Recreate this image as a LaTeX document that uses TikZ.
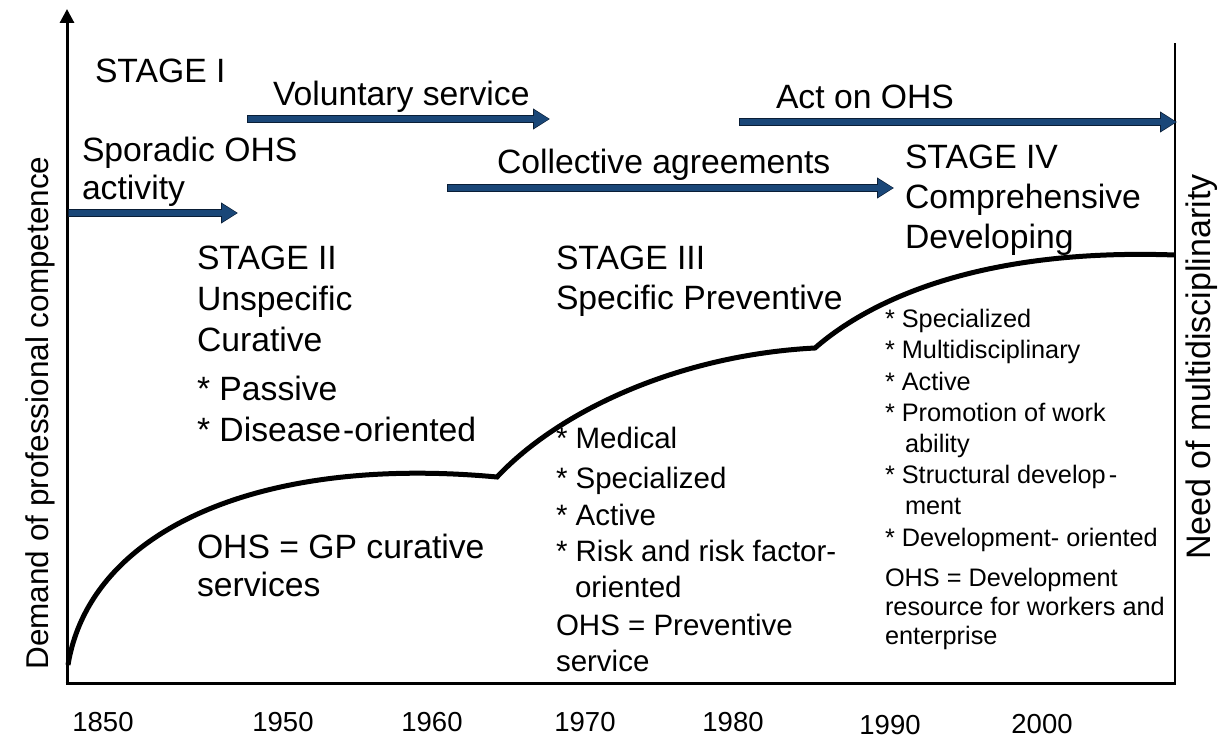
\documentclass[tikz,border=0pt]{standalone}
\usepackage{fontspec}
\setmainfont{Liberation Sans}
\usetikzlibrary{arrows.meta}
\definecolor{arrowblue}{HTML}{1A4778}
\definecolor{arrowedge}{HTML}{0A1E36}
\newcommand{\fBig}{\fontsize{33.7}{40}\selectfont}
\newcommand{\fMid}{\fontsize{29.5}{35}\selectfont}
\newcommand{\fSmall}{\fontsize{25.3}{30}\selectfont}
\newcommand{\fYear}{\fontsize{27.5}{32}\selectfont}
\newcommand{\fSide}{\fontsize{31.5}{36}\selectfont}
\begin{document}
\begin{tikzpicture}[x=1pt,y=-1pt,
  txt/.style={anchor=base west, inner sep=0pt, outer sep=0pt},
  big/.style={txt, font=\fBig},
  mid/.style={txt, font=\fMid},
  small/.style={txt, font=\fSmall},
  yearlbl/.style={anchor=base, inner sep=0pt, outer sep=0pt, font=\fYear},
  sidelbl/.style={anchor=base, inner sep=0pt, outer sep=0pt, rotate=90, font=\fSide},
  axisline/.style={line width=3pt, black},
  frameline/.style={line width=2pt, black},
  curveline/.style={line width=5pt, black, line join=miter},
  arrowrim/.style={line width=8.5pt, arrowedge, -{Triangle[length=17pt,width=20pt]}},
  blockarrow/.style={line width=6.5pt, arrowblue, -{Triangle[length=15pt,width=17pt]}}
]
\useasboundingbox (0,0) rectangle (1225,738);

% axes
\coordinate (origin) at (67,683);
\coordinate (ytop) at (67,9);
\coordinate (xend) at (1175,683);
\coordinate (rtop) at (1175,43);
\draw[axisline, -{Triangle[length=14pt,width=14pt]}] (origin) -- (ytop);
\draw[axisline] ([xshift=-1.5pt]origin) -- ([xshift=1pt]xend);
\draw[frameline] (xend) -- (rtop);

% axis labels
\node[sidelbl] (demand) at (48,413) {Demand of professional competence};
\node[sidelbl, font=\fontsize{34}{40}\selectfont] (need) at (1210,367) {Need of multidisciplinarity};

% development curve
\coordinate (c0) at (68,665);
\coordinate (c1) at (497,477);
\coordinate (c2) at (815,348);
\coordinate (c3) at (1175,255);
\draw[curveline] (c0) .. controls (90,530) and (260,455) .. (c1)
  .. controls (560,410) and (680,355) .. (c2)
  .. controls (870,300) and (980,248) .. (c3);

% block arrows
\coordinate (a1s) at (68,213);  \coordinate (a1e) at (237,213);
\coordinate (a2s) at (247,119); \coordinate (a2e) at (549,119);
\coordinate (a3s) at (739,122); \coordinate (a3e) at (1176,122);
\coordinate (a4s) at (447,188); \coordinate (a4e) at (893,188);
\foreach \s/\e in {a1s/a1e, a2s/a2e, a3s/a3e, a4s/a4e}{
  \draw[arrowrim] (\s) -- ([xshift=1pt]\e);
  \draw[blockarrow] ([xshift=1pt]\s) -- (\e);
}

% arrow labels
\node[big] (vol) at (273,106) {Voluntary service};
\node[big] (act) at (776,109) {Act on OHS};
\node[big] (coll) at (497,174) {Collective agreements};

% stage I
\node[big] (s1) at (95,83) {STAGE I};
\node[big] (spor1) at (82,162) {Sporadic OHS};
\node[big] (spor2) at (82,199) {activity};

% stage II
\node[big] (s2a) at (197,269) {STAGE II};
\node[big] (s2b) at (197,310) {Unspecific};
\node[big] (s2c) at (197,351) {Curative};
\node[big] (s2d) at (197,400) {* Passive};
\node[big] (s2e) at (197,441) {* Disease\kern2pt-oriented};
\node[big] (s2f) at (197,558) {OHS = GP curative};
\node[big] (s2g) at (197,596) {services};

% stage III
\node[big] (s3a) at (556,269) {STAGE III};
\node[big] (s3b) at (556,309) {Specific Preventive};
\node[mid] (s3c) at (556,448) {* Medical};
\node[mid] (s3d) at (556,488) {* Specialized};
\node[mid] (s3e) at (556,525) {* Active};
\node[mid] (s3f) at (556,561) {* Risk and risk factor-};
\node[mid] (s3g) at (575,597) {oriented};
\node[mid] (s3h) at (556,635) {OHS = Preventive};
\node[mid] (s3i) at (556,671) {service};

% stage IV
\node[big] (s4a) at (905,168) {STAGE IV};
\node[big] (s4b) at (905,208) {Comprehensive};
\node[big] (s4c) at (905,248) {Developing};
\node[small] (s4d) at (885,327) {* Specialized};
\node[small] (s4e) at (885,358) {* Multidisciplinary};
\node[small] (s4f) at (885,390) {* Active};
\node[small] (s4g) at (885,421) {* Promotion of work};
\node[small] (s4h) at (905,452) {ability};
\node[small] (s4i) at (885,483) {* Structural develop\kern3pt-};
\node[small] (s4j) at (905,514) {ment};
\node[small] (s4k) at (885,546) {* Development- oriented};
\node[small] (s4l) at (885,586) {OHS = Development};
\node[small] (s4m) at (885,615) {resource for workers and};
\node[small] (s4n) at (885,644) {enterprise};

% years
\node[yearlbl] (y1850) at (103,731) {1850};
\node[yearlbl] (y1950) at (283,731) {1950};
\node[yearlbl] (y1960) at (432,731) {1960};
\node[yearlbl] (y1970) at (585,731) {1970};
\node[yearlbl] (y1980) at (733,731) {1980};
\node[yearlbl] (y1990) at (890,734) {1990};
\node[yearlbl] (y2000) at (1042,733) {2000};
\end{tikzpicture}
\end{document}
